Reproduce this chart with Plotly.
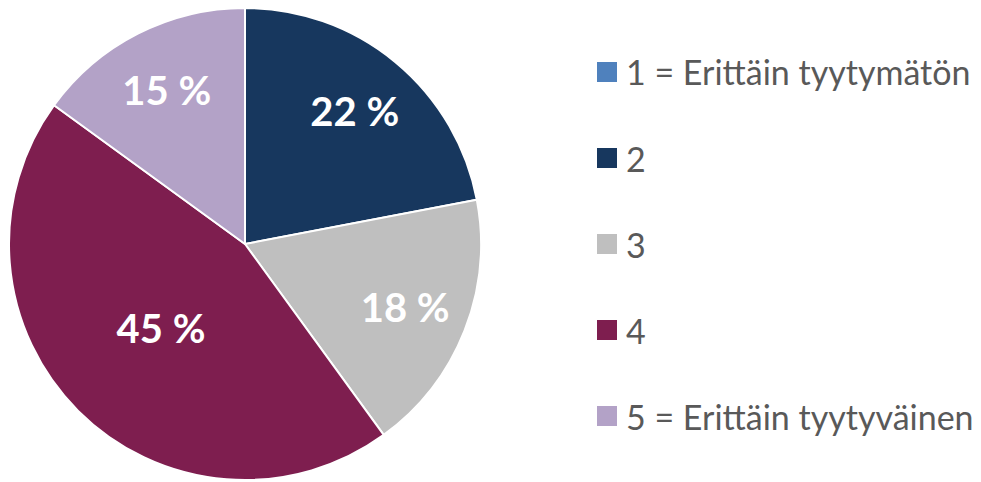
import plotly.graph_objects as go

categories = ["1 = Erittäin tyytymätön", "2", "3", "4", "5 = Erittäin tyytyväinen"]
values = [0, 22, 18, 45, 15]
colors = ["#4F81BD", "#17375E", "#BFBFBF", "#7E1E4F", "#B3A2C7"]

# which labels sit near the outer rim (placed via a transparent ring layer)
outer_label = [False, True, True, False, True]

labels_text = [f"{v} %" if v > 0 else "" for v in values]
inner_text = [t if not o else "" for t, o in zip(labels_text, outer_label)]
outer_text = [t if o else "" for t, o in zip(labels_text, outer_label)]

W, H = 981, 482
OFF = 8  # page body margin offset


def px_x(p):
    return (p - OFF) / W


def px_y(p):
    return 1 - (p - OFF) / H


dom = dict(x=[0, 474 / W], y=[1 - 472 / H, 1])
lab_font = dict(family="Lato", size=40, color="white", weight="bold")

fig = go.Figure()
fig.add_trace(go.Pie(
    labels=categories,
    values=values,
    text=inner_text,
    texttemplate="%{text}",
    textposition="inside",
    insidetextorientation="horizontal",
    sort=False,
    direction="clockwise",
    rotation=0,
    marker=dict(colors=colors, line=dict(color="white", width=2)),
    textfont=lab_font,
    domain=dom,
    showlegend=False,
    hoverinfo="label+percent",
))
fig.add_trace(go.Pie(
    labels=categories,
    values=values,
    text=outer_text,
    texttemplate="%{text}",
    textposition="inside",
    insidetextorientation="horizontal",
    sort=False,
    direction="clockwise",
    rotation=0,
    hole=0.46,
    marker=dict(colors=["rgba(0,0,0,0)"] * len(values), line=dict(width=0)),
    textfont=lab_font,
    domain=dom,
    showlegend=False,
    hoverinfo="skip",
))

# manual legend (to match the original spacing)
leg_x0 = 597
leg_y0 = 72
leg_dy = 86
for i, (cat, col) in enumerate(zip(categories, colors)):
    yc = leg_y0 + i * leg_dy
    fig.add_shape(type="rect", xref="paper", yref="paper",
                  x0=px_x(leg_x0), x1=px_x(leg_x0 + 20),
                  y0=px_y(yc - 10), y1=px_y(yc + 10),
                  fillcolor=col, line=dict(width=0))
    fig.add_annotation(xref="paper", yref="paper", x=px_x(624), y=px_y(yc),
                       text=cat, showarrow=False, xanchor="left", yanchor="middle",
                       font=dict(family="Lato", size=34, color="#595959"))

fig.update_layout(
    width=W, height=H,
    margin=dict(l=0, r=0, t=0, b=0),
    paper_bgcolor="white",
    plot_bgcolor="white",
)
fig.write_html("out.html")
